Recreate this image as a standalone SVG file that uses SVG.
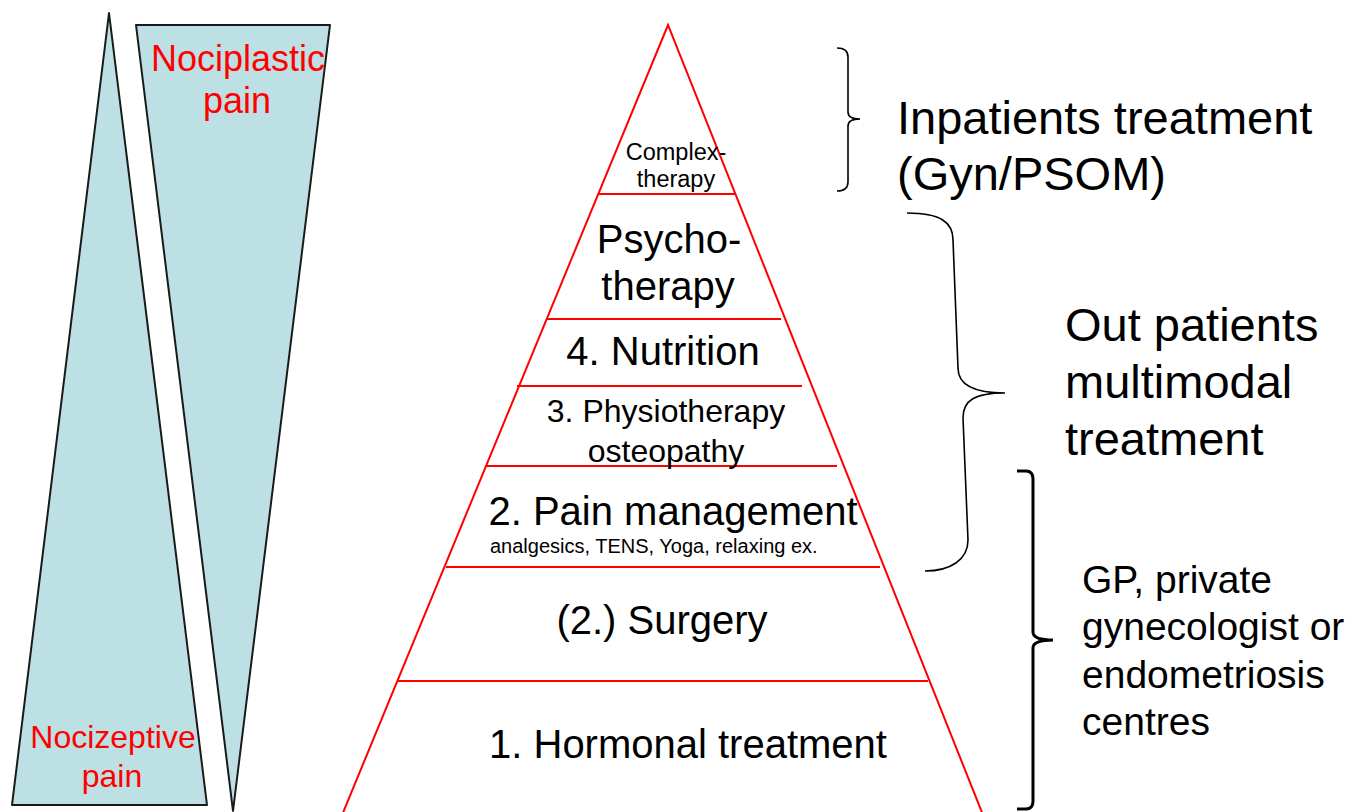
<svg xmlns="http://www.w3.org/2000/svg" width="1353" height="812" viewBox="0 0 1353 812">
<style>
text{font-family:"Liberation Sans",Arial,sans-serif;fill:#000}
.red{fill:#ff0000}
.wedge{fill:#bce0e3;stroke:#1a1a1a;stroke-width:2;stroke-linejoin:round}
.pyr{fill:none;stroke:#ff0000;stroke-width:2}
.brace{fill:none;stroke:#000;stroke-width:1.6}
.brace3{fill:none;stroke:#000;stroke-width:3}
.m{text-anchor:middle}
</style>
<rect width="1353" height="812" fill="#fff"/>
<g id="nociceptive">
<polygon class="wedge" points="109,13 207,805 12,805"/>
<text class="red m" x="113" y="748" font-size="32">Nocizeptive</text>
<text class="red m" x="112" y="787" font-size="32">pain</text>
</g>
<g id="nociplastic">
<polygon class="wedge" points="136,25 330,25 233,811"/>
<text class="red m" x="238" y="71" font-size="36">Nociplastic</text>
<text class="red m" x="237" y="113" font-size="36">pain</text>
</g>
<g id="pyramid">
<polyline class="pyr" points="340,820 668,25 985,820"/>
</g>
<g id="layer-complex">
<line class="pyr" x1="599" y1="194" x2="735" y2="194"/>
<text class="m" x="676" y="160" font-size="23.5">Complex-</text>
<text class="m" x="676" y="187" font-size="23.5">therapy</text>
</g>
<g id="layer-psycho">
<line class="pyr" x1="546" y1="319" x2="781" y2="319"/>
<text class="m" x="669" y="253" font-size="40">Psycho-</text>
<text class="m" x="668" y="300" font-size="40">therapy</text>
</g>
<g id="layer-nutrition">
<line class="pyr" x1="517" y1="386" x2="802" y2="386"/>
<text class="m" x="663" y="365" font-size="40">4. Nutrition</text>
</g>
<g id="layer-physio">
<line class="pyr" x1="485" y1="466" x2="837" y2="466"/>
<text class="m" x="666" y="422" font-size="32">3. Physiotherapy</text>
<text class="m" x="666" y="462" font-size="32">osteopathy</text>
</g>
<g id="layer-pain">
<line class="pyr" x1="446" y1="567" x2="880" y2="567"/>
<text class="m" x="673" y="525" font-size="40">2. Pain management</text>
<text x="490" y="553" font-size="20">analgesics, TENS, Yoga, relaxing ex.</text>
</g>
<g id="layer-surgery">
<line class="pyr" x1="397" y1="681" x2="928" y2="681"/>
<text class="m" x="662" y="634" font-size="40">(2.) Surgery</text>
</g>
<g id="layer-hormonal">
<text class="m" x="688" y="758" font-size="40">1. Hormonal treatment</text>
</g>
<g id="connectors">
<path class="brace" d="M837,48 Q848,48 848,57 L848,112 Q848,119 860,119 Q848,119 848,126 L848,182 Q848,191 837,191"/>
<path class="brace" d="M907,213 C940,213 953,222 953,240 L958,368 C958,385 975,393 1005,393 C975,393 963,400 963,418 L968,540 C968,560 950,571 925,571"/>
<path class="brace3" d="M1017,471 L1026,471 Q1033,471 1033,479 L1033,632 Q1033,640 1053,640 Q1033,640 1033,648 L1033,801 Q1033,809 1026,809 L1017,809"/>
</g>
<g id="label-inpatients">
<text x="897" y="134" font-size="47">Inpatients treatment</text>
<text x="897" y="190" font-size="47">(Gyn/PSOM)</text>
</g>
<g id="label-outpatients">
<text x="1065" y="341" font-size="47">Out patients</text>
<text x="1065" y="398" font-size="47">multimodal</text>
<text x="1065" y="455" font-size="47">treatment</text>
</g>
<g id="label-gp">
<text x="1082" y="593" font-size="39">GP, private</text>
<text x="1082" y="640" font-size="39">gynecologist or</text>
<text x="1082" y="688" font-size="39">endometriosis</text>
<text x="1082" y="735" font-size="39">centres</text>
</g>
</svg>
